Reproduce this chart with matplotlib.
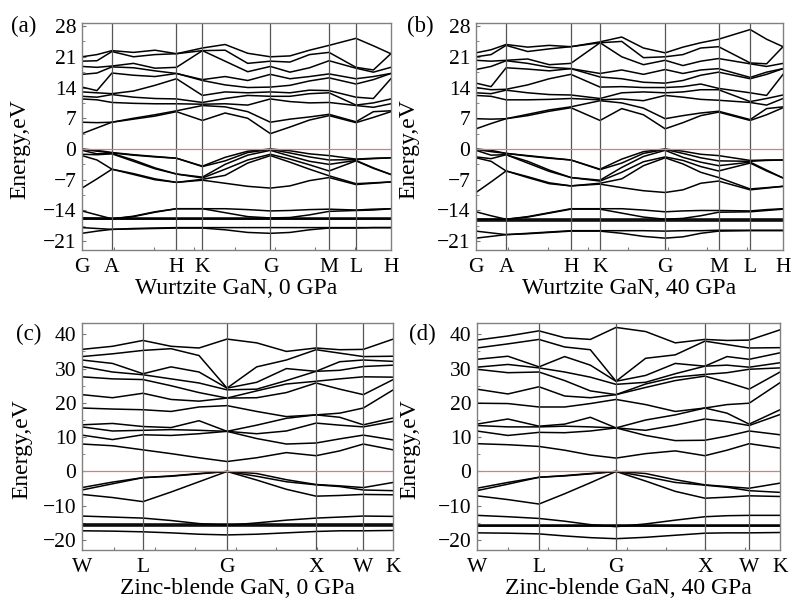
import numpy as np
import matplotlib.pyplot as plt
from matplotlib.ticker import MultipleLocator

plt.rcParams['font.family'] = ['Liberation Serif', 'DejaVu Serif']

# high-symmetry points and where they sit along each k-path (fraction of the axis)
wz_labels = ['G', 'A', 'H', 'K', 'G', 'M', 'L', 'H']
zb_labels = ['W', 'L', 'G', 'X', 'W', 'K']
a_ticks = [0, 0.097, 0.306, 0.39, 0.61, 0.80, 0.887, 1.0]
b_ticks = [0, 0.098, 0.309, 0.404, 0.616, 0.79, 0.893, 1.0]
c_ticks = [0, 0.196, 0.466, 0.752, 0.904, 1.0]
d_ticks = [0, 0.205, 0.459, 0.752, 0.898, 1.0]
# number of sampled steps in each path segment
wz_sub = [2, 3, 1, 3, 3, 1, 2]   # G-A A-H H-K K-G G-M M-L L-H
zb_sub = [2, 3, 3, 2, 1]         # W-L L-G G-X X-W W-K

# ---- (a) wurtzite 0 GPa, one row per sampled k-point ----
a_val = [
    [0, -0.1, -0.3, -1.2, -1.5, -8.9],
    [-0.3, -0.5, -1.1, -1.3, -2.5, -6.8],
    [-0.8, -0.9, -1.0, -1.1, -4.6, -4.6],
    [-1.3, -1.4, -2.5, -2.8, -5.6, -5.8],
    [-1.7, -1.8, -4.3, -4.5, -6.8, -7.0],
    [-2.1, -2.1, -5.7, -5.7, -7.6, -7.6],
    [-3.9, -4.0, -6.4, -6.6, -6.9, -7.1],
    [-1.9, -2.7, -3.5, -4.6, -6.0, -7.8],
    [-0.5, -0.8, -1.4, -2.5, -3.2, -8.5],
    [0, -0.1, -0.3, -1.2, -1.5, -8.9],
    [-0.4, -0.9, -1.6, -2.3, -3.0, -8.4],
    [-1.1, -1.8, -2.8, -3.6, -4.6, -7.2],
    [-1.5, -2.5, -3.5, -5.0, -6.1, -6.5],
    [-2.3, -2.4, -2.6, -2.7, -7.9, -8.1],
    [-2.1, -2.2, -4.3, -4.4, -7.7, -7.8],
    [-2.0, -2.0, -5.8, -5.8, -7.5, -7.5],
]
a_cond = [
    [3.5, 6.1, 11.4, 12.0, 13.0, 14.1, 17.0, 18.8, 20.0, 21.0],
    [4.8, 6.0, 11.2, 11.8, 12.8, 13.3, 17.3, 18.6, 20.1, 21.5],
    [6.1, 6.1, 10.6, 12.4, 12.6, 17.3, 18.7, 18.9, 22.2, 22.4],
    [6.8, 7.0, 10.4, 11.8, 13.2, 16.8, 18.5, 19.5, 21.0, 22.0],
    [7.5, 7.8, 10.3, 11.5, 14.5, 16.5, 17.8, 18.4, 21.5, 22.5],
    [8.5, 8.7, 10.3, 11.4, 16.0, 17.2, 17.2, 18.6, 21.7, 21.7],
    [6.5, 9.9, 10.2, 10.6, 12.2, 15.6, 15.8, 22.4, 22.4, 23.0],
    [8.2, 9.6, 10.3, 11.5, 13.0, 14.6, 16.5, 20.0, 22.5, 23.8],
    [7.0, 8.5, 10.0, 12.2, 12.8, 14.0, 15.6, 17.6, 19.5, 21.8],
    [3.5, 6.1, 11.4, 12.0, 13.0, 14.1, 17.0, 18.8, 20.0, 21.0],
    [5.0, 6.8, 10.8, 12.0, 12.8, 14.5, 16.0, 17.5, 19.8, 21.2],
    [6.6, 7.3, 10.5, 12.6, 13.4, 15.5, 16.5, 18.5, 21.5, 22.5],
    [7.6, 7.9, 10.6, 12.8, 13.3, 16.2, 17.1, 20.1, 22.0, 23.6],
    [6.0, 6.2, 9.9, 10.0, 11.8, 14.8, 16.0, 18.4, 18.6, 25.2],
    [7.2, 8.5, 9.5, 10.5, 11.5, 15.8, 16.5, 17.5, 18.0, 23.5],
    [8.5, 8.7, 10.3, 11.4, 16.0, 17.2, 17.2, 18.6, 21.7, 21.7],
]
# semicore bands, one row per band
a_core = [
    [-14.1, -15.0, -15.9, -15.3, -14.3, -13.6, -13.6, -13.6, -13.8, -14.1, -14.0, -13.8, -13.7, -13.9, -13.7, -13.6],
    [-15.7, -15.8, -15.9, -15.4, -14.4, -13.6, -13.6, -14.5, -15.4, -15.7, -15.6, -15.0, -14.2, -14.0, -13.9, -13.6],
    [-17.9, -18.1, -18.3, -18.1, -18.0, -17.9, -17.9, -17.9, -17.9, -17.9, -17.9, -17.9, -17.9, -17.9, -17.9, -17.9],
    [-19.2, -18.7, -18.3, -18.2, -18.1, -18.0, -18.0, -18.4, -19.0, -19.2, -19.0, -18.4, -18.0, -18.0, -17.9, -17.9],
]
a_d = [-15.7, -15.85, -16.0]

# ---- (b) wurtzite 40 GPa ----
b_val = [
    [0, -0.1, -0.3, -1.8, -2.0, -9.9],
    [-0.3, -0.6, -1.4, -2.2, -2.8, -7.5],
    [-1.0, -1.0, -1.3, -1.3, -5.0, -5.0],
    [-1.5, -1.6, -2.8, -3.2, -6.3, -6.5],
    [-2.0, -2.1, -4.8, -5.1, -7.7, -7.9],
    [-2.5, -2.5, -6.5, -6.5, -8.4, -8.4],
    [-4.6, -4.7, -7.1, -7.3, -7.8, -8.0],
    [-2.3, -3.2, -4.2, -5.3, -6.8, -8.8],
    [-0.6, -1.0, -1.7, -2.9, -3.8, -9.5],
    [0, -0.1, -0.3, -1.8, -2.0, -9.9],
    [-0.5, -1.0, -1.9, -2.6, -3.4, -9.3],
    [-1.2, -2.0, -3.0, -4.0, -5.3, -7.8],
    [-1.5, -2.7, -3.8, -5.0, -6.5, -7.3],
    [-2.6, -2.8, -3.0, -3.2, -9.1, -9.3],
    [-2.5, -2.6, -4.8, -5.0, -8.8, -8.9],
    [-2.5, -2.5, -6.6, -6.6, -8.5, -8.5],
]
b_cond = [
    [4.6, 6.9, 12.2, 12.8, 14.0, 15.0, 18.1, 20.2, 21.0, 21.9],
    [5.8, 6.8, 12.0, 12.6, 13.5, 14.2, 18.8, 20.0, 21.5, 22.6],
    [6.9, 6.9, 11.2, 13.4, 13.6, 18.5, 20.1, 20.2, 23.6, 23.8],
    [7.6, 7.9, 11.2, 12.8, 14.6, 18.2, 19.5, 20.5, 22.2, 23.2],
    [8.6, 8.9, 11.3, 12.4, 16.0, 17.8, 18.6, 19.2, 22.8, 23.6],
    [9.4, 9.6, 11.5, 12.3, 17.0, 18.3, 18.3, 19.5, 23.3, 23.3],
    [6.5, 11.0, 11.2, 11.5, 14.1, 16.4, 17.2, 24.2, 24.2, 24.4],
    [9.2, 10.5, 11.4, 12.8, 14.2, 16.0, 18.0, 21.0, 24.5, 25.5],
    [7.8, 9.3, 11.0, 13.0, 14.0, 15.2, 17.0, 19.2, 20.8, 23.0],
    [4.6, 6.9, 12.2, 12.8, 14.0, 15.0, 18.1, 20.2, 21.0, 21.9],
    [6.0, 7.6, 11.8, 13.0, 14.2, 15.6, 17.2, 19.0, 21.5, 23.2],
    [7.6, 8.2, 11.3, 13.5, 14.8, 16.8, 18.0, 20.0, 23.0, 24.2],
    [8.4, 8.6, 11.1, 13.5, 13.8, 17.5, 18.3, 20.6, 23.3, 25.0],
    [6.5, 6.7, 10.6, 10.8, 12.8, 16.0, 16.3, 19.4, 19.6, 27.2],
    [7.8, 9.2, 10.0, 11.5, 12.2, 17.0, 17.5, 18.8, 19.4, 25.0],
    [9.4, 9.6, 11.5, 12.3, 17.0, 18.3, 18.3, 19.5, 23.3, 23.3],
]
b_core = [
    [-14.3, -15.2, -16.0, -15.4, -14.5, -13.6, -13.6, -13.6, -13.9, -14.3, -14.1, -14.0, -14.0, -14.1, -13.8, -13.6],
    [-16.0, -16.0, -16.0, -15.5, -14.6, -13.7, -13.7, -14.6, -15.5, -16.0, -15.8, -15.2, -14.4, -14.3, -14.0, -13.7],
    [-18.7, -19.1, -19.5, -19.2, -18.9, -18.6, -18.6, -18.6, -18.6, -18.7, -18.6, -18.6, -18.5, -18.5, -18.5, -18.5],
    [-20.3, -19.9, -19.5, -19.3, -19.0, -18.7, -18.7, -19.2, -19.9, -20.3, -20.0, -19.2, -18.7, -18.6, -18.6, -18.6],
]
b_d = [-16.0, -16.15, -16.3]

# ---- (c) zinc-blende 0 GPa ----
c_val = [
    [-4.7, -5.4, -6.7],
    [-3.1, -3.6, -7.6],
    [-1.8, -1.8, -8.8],
    [-1.3, -1.4, -6.0],
    [-0.6, -0.7, -3.0],
    [0, 0, 0],
    [-0.6, -1.4, -2.5],
    [-2.4, -3.0, -5.2],
    [-3.8, -3.9, -7.2],
    [-4.2, -4.4, -7.0],
    [-4.7, -5.4, -6.7],
    [-3.2, -5.6, -6.8],
]
c_cond = [
    [8.0, 10.6, 13.0, 13.6, 18.5, 22.4, 27.6, 30.6, 32.5, 33.5, 35.6],
    [7.5, 9.3, 11.8, 14.0, 18.2, 21.5, 27.0, 29.0, 31.5, 34.3, 36.5],
    [6.3, 10.7, 12.0, 13.1, 18.0, 22.8, 26.8, 28.2, 28.5, 35.3, 38.2],
    [5.2, 10.5, 12.2, 12.8, 17.5, 21.0, 25.0, 27.0, 30.5, 35.8, 36.5],
    [4.0, 11.0, 12.0, 14.8, 18.8, 20.5, 23.0, 25.8, 29.0, 33.8, 36.0],
    [2.9, 11.7, 11.7, 11.7, 19.2, 21.4, 21.4, 23.8, 24.3, 24.3, 38.6],
    [4.0, 9.6, 11.0, 13.5, 17.5, 21.5, 23.5, 24.0, 26.0, 30.5, 37.5],
    [5.5, 8.0, 11.8, 15.5, 16.0, 23.0, 25.5, 26.5, 30.0, 32.5, 35.0],
    [4.6, 8.3, 14.1, 16.5, 16.5, 25.8, 26.3, 29.2, 29.2, 35.5, 36.0],
    [6.0, 9.5, 13.5, 15.8, 17.0, 24.0, 27.0, 29.5, 32.0, 34.5, 35.5],
    [8.0, 10.6, 13.0, 13.6, 18.5, 22.4, 27.6, 30.6, 32.5, 33.5, 35.6],
    [6.3, 9.2, 14.6, 15.6, 23.8, 26.8, 27.5, 31.0, 32.1, 33.6, 38.6],
]
c_core = [
    [-13.0, -13.3, -13.6, -14.3, -15.2, -15.7, -15.0, -14.2, -13.6, -13.3, -13.0, -13.1],
    [-17.3, -17.4, -17.6, -17.9, -18.3, -18.5, -18.3, -17.9, -17.5, -17.3, -17.3, -17.2],
]
c_d = [-15.4, -15.6, -15.8]

# ---- (d) zinc-blende 40 GPa ----
d_val = [
    [-4.9, -5.6, -7.1],
    [-3.2, -3.7, -8.2],
    [-1.7, -1.7, -9.5],
    [-1.2, -1.3, -6.5],
    [-0.6, -0.7, -3.3],
    [0, 0, 0],
    [-0.6, -1.5, -2.8],
    [-2.4, -3.2, -5.8],
    [-3.9, -4.0, -7.8],
    [-4.4, -4.6, -7.5],
    [-4.9, -5.6, -7.1],
    [-3.4, -6.1, -7.3],
]
d_cond = [
    [8.1, 11.8, 13.4, 13.8, 19.9, 24.0, 29.8, 30.4, 32.7, 36.0, 38.3],
    [7.8, 10.5, 13.0, 15.3, 19.8, 22.6, 28.8, 31.2, 33.6, 37.2, 39.5],
    [7.3, 11.4, 13.0, 13.2, 18.8, 24.7, 29.0, 30.2, 30.5, 38.5, 41.0],
    [6.2, 11.3, 13.2, 13.8, 18.8, 22.0, 26.5, 29.0, 33.5, 36.3, 39.0],
    [4.8, 11.8, 13.0, 15.8, 19.8, 21.5, 23.5, 27.5, 31.0, 35.5, 38.5],
    [3.9, 12.7, 12.7, 12.7, 21.0, 22.4, 22.4, 25.4, 26.3, 26.3, 42.0],
    [5.2, 10.5, 12.0, 15.0, 19.5, 24.5, 25.5, 26.0, 28.0, 33.0, 40.8],
    [6.0, 9.0, 13.5, 16.5, 17.5, 26.5, 27.5, 28.5, 31.5, 34.0, 37.5],
    [4.6, 9.1, 15.3, 18.5, 18.5, 27.8, 28.3, 30.7, 30.7, 38.0, 38.5],
    [6.2, 10.3, 14.5, 17.0, 19.5, 26.0, 28.8, 31.0, 33.5, 37.0, 38.2],
    [8.1, 11.8, 13.4, 13.8, 19.9, 24.0, 29.8, 30.4, 32.7, 36.0, 38.3],
    [6.8, 10.7, 16.6, 18.0, 25.9, 29.0, 30.2, 31.7, 34.6, 36.1, 41.3],
]
d_core = [
    [-12.8, -13.2, -13.7, -14.5, -15.5, -16.1, -15.3, -14.2, -13.2, -12.9, -12.8, -12.8],
    [-17.9, -18.0, -18.2, -18.8, -19.3, -19.6, -19.2, -18.6, -18.0, -17.9, -17.9, -17.8],
]
d_d = [-15.6, -15.8, -16.0]


def kpath(ticks, sub):
    pts = [ticks[0]]
    for i, n in enumerate(sub):
        pts += list(np.linspace(ticks[i], ticks[i + 1], n + 1)[1:])
    return np.array(pts)


def draw(ax, ticks, labels, sub, val, cond, core, dband, ylim, yt, ystep,
         tag, tag_xy, xlab, ylab_x):
    k = kpath(ticks, sub)
    for tbl in (val, cond):
        for band in np.array(tbl).T:
            ax.plot(k, band, color='black', lw=1.1)
    for band in core:
        ax.plot(k, band, color='black', lw=1.1)
    for e in dband:
        ax.axhline(e, color='black', lw=1.1)
    for t in ticks[1:-1]:
        ax.axvline(t, color='#555555', lw=0.9)
    ax.axhline(0, color='#e07a7a', lw=0.9)
    ax.set_xlim(0, 1)
    ax.set_ylim(*ylim)
    ax.set_yticks(yt)
    ax.yaxis.set_minor_locator(MultipleLocator(ystep))
    ax.set_xticks(np.arange(0.104, 1.0, 0.13))
    ax.set_xticklabels([])
    ax.tick_params(axis='both', which='both', direction='in', color='#777777',
                   labelsize=15.5, pad=4, right=False, top=False)
    ax.tick_params(axis='both', which='major', length=3)
    ax.tick_params(axis='both', which='minor', length=2)
    ax.tick_params(axis='x', which='major', length=2)
    for s in ax.spines.values():
        s.set_color('#808080')
        s.set_linewidth(1.0)
    for t, lab in zip(ticks, labels):
        ax.text(t, -0.035, lab, transform=ax.transAxes, ha='center', va='top', fontsize=15.5)
    ax.text(0.5, -0.125, xlab, transform=ax.transAxes, ha='center', va='top', fontsize=17)
    ax.set_ylabel('Energy,eV', fontsize=17)
    ax.yaxis.set_label_coords(ylab_x, 0.445)
    ax.text(tag_xy[0], tag_xy[1], tag, transform=ax.transAxes, ha='center', va='center',
            fontsize=16.5)


fig = plt.figure(figsize=(7.96, 6.03), dpi=100)
ax_a = fig.add_axes([0.103, 0.5854, 0.388, 0.3765])
ax_b = fig.add_axes([0.598, 0.5854, 0.3857, 0.3765])
ax_c = fig.add_axes([0.103, 0.0879, 0.391, 0.3765])
ax_d = fig.add_axes([0.599, 0.0879, 0.381, 0.3765])

wz_yt = [-21, -14, -7, 0, 7, 14, 21, 28]
zb_yt = [-20, -10, 0, 10, 20, 30, 40]
draw(ax_a, a_ticks, wz_labels, wz_sub, a_val, a_cond, a_core, a_d, (-23.0, 28.7), wz_yt, 3.5,
     '(a)', (-0.19, 0.985), 'Wurtzite GaN, 0 GPa', -0.168)
draw(ax_b, b_ticks, wz_labels, wz_sub, b_val, b_cond, b_core, b_d, (-23.0, 28.7), wz_yt, 3.5,
     '(b)', (-0.18, 0.985), 'Wurtzite GaN, 40 GPa', -0.186)
draw(ax_c, c_ticks, zb_labels, zb_sub, c_val, c_cond, c_core, c_d, (-22.9, 43.3), zb_yt, 5,
     '(c)', (-0.17, 0.95), 'Zinc-blende GaN, 0 GPa', -0.158)
draw(ax_d, d_ticks, zb_labels, zb_sub, d_val, d_cond, d_core, d_d, (-22.9, 43.3), zb_yt, 5,
     '(d)', (-0.18, 0.95), 'Zinc-blende GaN, 40 GPa', -0.185)

fig.savefig('out.png', dpi=100)
